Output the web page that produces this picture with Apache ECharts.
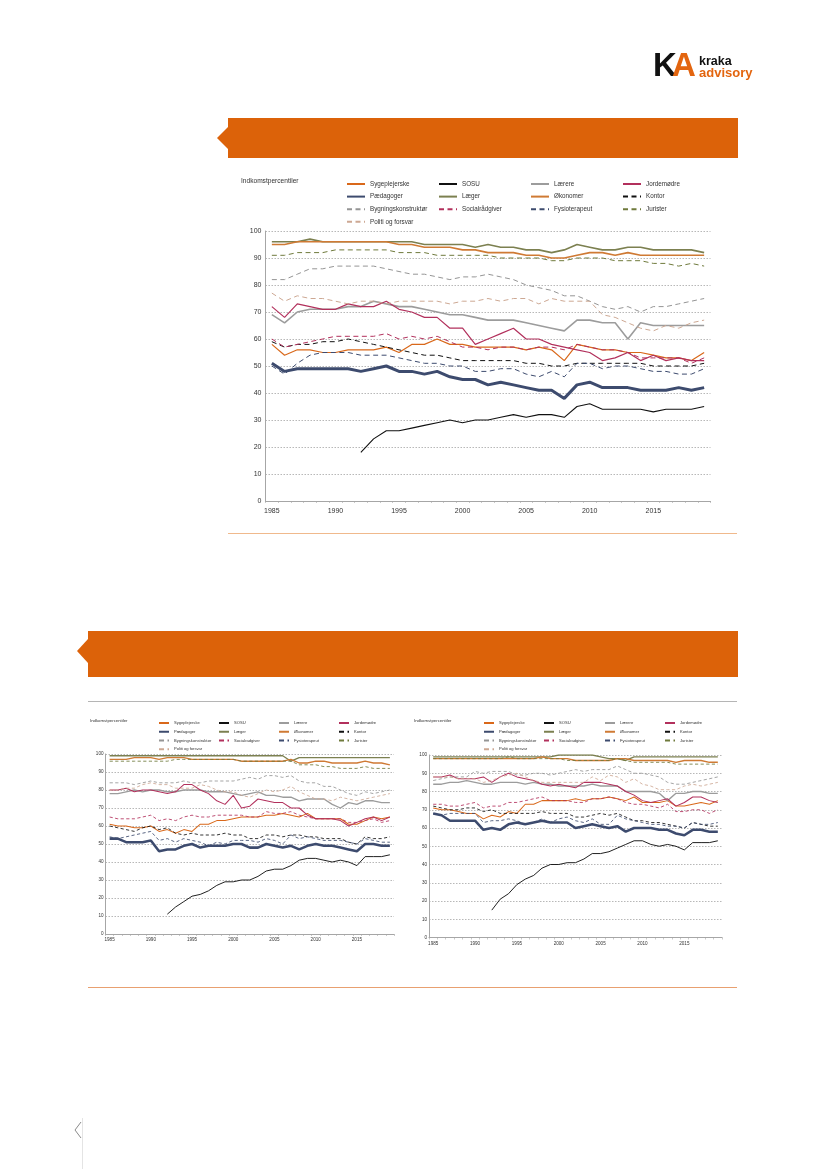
<!DOCTYPE html>
<html><head><meta charset="utf-8">
<style>html,body{margin:0;padding:0;background:#fff}#c{width:827px;height:1169px}</style>
<script src="https://cdn.jsdelivr.net/npm/echarts@6/dist/echarts.min.js"></script>
</head><body><div id="c"></div>
<script>
const years = ['1985','1986','1987','1988','1989','1990','1991','1992','1993','1994','1995','1996','1997','1998','1999','2000','2001','2002','2003','2004','2005','2006','2007','2008','2009','2010','2011','2012','2013','2014','2015','2016','2017','2018','2019'];
const yTitle = 'Indkomstpercentiler';
const names = ['Sygeplejerske','SOSU','Lærere','Jordemødre','Pædagoger','Læger','Økonomer','Kontor','Bygningskonstruktør','Socialrådgiver','Fysioterapeut','Jurister','Politi og forsvar'];
const n7 = [null,null,null,null,null,null,null];

// Hovedfigur
const mainSyg = [58,54,56,56,55,55,56,56,56,57,55,58,58,60,58,58,57,57,57,57,56,57,56,52,58,57,56,56,55,55,54,53,53,52,55];
const mainSosu = [...n7,18,23,26,26,27,28,29,30,29,30,30,31,32,31,32,32,31,35,36,34,34,34,34,33,34,34,34,35];
const mainLaer = [69,66,70,71,71,71,72,72,74,73,72,72,71,70,69,69,68,67,67,67,66,65,64,63,67,67,66,66,60,66,65,65,65,65,65];
const mainJord = [72,68,73,72,71,71,73,72,72,74,71,70,68,68,64,64,58,60,62,64,60,60,58,57,56,55,52,53,55,52,54,52,53,52,52];
const mainPaed = [51,48,49,49,49,49,49,48,49,50,48,48,47,48,46,45,45,43,44,43,42,41,41,38,43,44,42,42,42,41,41,41,42,41,42];
const mainLaeg = [96,96,96,97,96,96,96,96,96,96,96,96,95,95,95,95,94,95,94,94,93,93,92,93,95,94,93,93,94,94,93,93,93,93,92];
const mainOkon = [95,95,96,96,96,96,96,96,96,96,95,95,94,94,94,93,93,92,92,92,91,91,90,90,91,92,92,91,92,91,91,91,91,91,91];
const mainKont = [59,57,58,58,59,59,60,59,58,57,56,55,54,54,53,52,52,52,52,52,51,51,50,50,51,51,51,51,51,51,50,50,50,50,51];
const mainBygn = [82,82,84,86,86,87,87,87,87,86,85,84,84,83,82,83,83,84,83,82,80,79,78,76,76,74,72,71,72,70,72,72,73,74,75];
const mainSoci = [60,57,58,59,60,61,61,61,61,62,60,61,60,61,59,57,57,56,57,57,56,57,57,56,58,57,56,56,55,53,53,53,53,51,53];
const mainFysi = [50,47,51,54,55,55,55,54,54,54,53,52,51,51,50,50,48,48,49,49,47,46,48,46,51,51,49,50,50,49,48,48,47,47,49];
const mainJuri = [91,91,92,92,92,93,93,93,93,93,92,92,92,91,91,91,91,91,90,90,90,90,89,89,90,90,90,89,89,89,88,88,87,88,87];
const mainPoli = [77,74,76,75,75,74,73,74,74,73,74,74,74,74,73,74,74,75,74,75,75,73,75,74,74,74,69,68,66,64,63,65,64,66,67];

// Venstre figur
const leftSyg = [61,60,60,59,59,60,57,58,56,58,57,61,61,63,63,64,65,65,65,66,66,67,66,65,67,64,64,64,64,61,61,63,65,64,65];
const leftSosu = [...n7,11,15,18,21,22,24,27,29,29,30,30,32,35,36,36,38,41,42,42,41,40,41,40,38,43,43,43,44];
const leftLaer = [78,78,79,80,79,80,80,79,79,80,80,80,79,79,79,78,77,78,79,77,77,76,76,74,75,75,75,72,70,73,72,74,74,73,73];
const leftJord = [80,80,81,79,80,80,79,78,79,83,83,80,78,74,72,77,70,71,75,74,73,73,70,70,66,64,64,64,63,60,62,64,65,63,65];
const leftPaed = [53,53,51,51,51,52,46,47,47,49,50,48,49,49,49,50,50,48,48,50,49,48,49,47,49,50,49,49,48,47,46,50,50,49,49];
const leftLaeg = [99,99,99,99,99,99,99,99,99,99,99,99,99,99,99,99,99,99,99,99,99,99,96,98,98,98,98,98,98,98,98,98,98,98,98];
const leftOkon = [97,97,97,98,98,98,97,98,98,98,97,97,97,97,97,97,96,96,96,96,96,96,97,95,95,96,96,95,95,95,95,96,95,95,94];
const leftKont = [60,59,58,57,59,60,58,59,56,55,56,55,55,55,56,55,55,53,53,55,55,54,55,55,54,54,53,53,53,51,50,54,53,53,54];
const leftBygn = [84,84,84,83,84,85,84,84,84,85,84,84,85,85,85,85,86,87,86,88,88,87,88,85,84,84,82,82,80,78,77,79,78,79,80];
const leftSoci = [65,64,64,64,65,66,63,64,63,65,66,65,65,66,66,66,66,65,65,68,67,67,68,66,65,64,64,64,64,62,62,63,64,62,63];
const leftFysi = [54,53,54,55,56,57,52,53,51,53,52,51,49,51,50,52,52,52,51,53,52,50,55,53,54,53,52,52,52,51,50,53,52,51,51];
const leftJuri = [96,96,96,96,96,96,96,96,97,97,97,97,97,97,97,97,96,96,96,96,96,96,96,94,94,94,93,93,92,92,92,93,92,92,92];
const leftPoli = [80,80,81,81,83,84,83,83,81,81,81,83,82,80,79,79,77,76,78,80,79,80,82,79,77,75,75,74,76,75,74,75,76,77,78];

// Højre figur
const rightSyg = [71,70,70,69,68,68,65,67,66,69,68,73,73,75,75,75,75,76,75,76,76,77,76,75,77,74,74,74,75,72,72,73,74,73,75];
const rightSosu = [...n7,15,21,24,29,32,34,38,40,40,41,41,43,46,46,47,49,51,53,53,51,50,51,50,48,52,52,52,53];
const rightLaer = [84,84,85,85,86,85,84,84,85,85,85,84,85,84,84,83,83,83,83,84,83,83,83,80,80,80,80,79,75,79,79,80,80,79,79];
const rightJord = [88,88,89,87,87,87,88,85,88,90,88,87,86,84,83,84,83,82,85,85,85,84,83,80,78,75,74,75,76,72,74,77,77,75,74];
const rightPaed = [68,67,64,64,64,64,59,60,59,62,63,62,63,64,63,63,63,60,61,62,61,60,61,58,60,60,60,59,59,57,56,59,59,58,58];
const rightLaeg = [99,99,99,99,99,99,99,99,99,99,99,99,99,99,99,100,100,100,100,100,99,98,98,97,99,99,99,99,99,99,99,99,99,99,99];
const rightOkon = [98,98,98,98,98,98,98,98,98,98,98,98,98,99,98,98,98,97,97,97,97,97,98,98,97,97,97,97,97,96,97,97,97,96,96];
const rightKont = [72,71,70,70,71,71,69,70,68,68,68,68,68,69,68,68,68,66,66,67,68,67,68,66,64,64,63,63,62,61,60,63,62,61,61];
const rightBygn = [86,87,88,88,88,91,90,91,91,91,89,89,90,90,89,90,91,92,91,92,92,92,94,92,90,90,89,88,85,84,84,85,86,87,88];
const rightSoci = [73,73,72,72,73,74,71,72,72,74,74,75,76,77,75,75,75,74,74,76,76,77,76,74,73,73,72,71,73,69,69,70,70,68,70];
const rightFysi = [68,67,68,68,68,68,63,64,64,65,64,62,63,65,63,65,66,64,63,65,62,62,67,65,64,63,62,62,61,61,60,63,62,62,63];
const rightJuri = [98,98,98,98,98,98,98,98,98,99,98,98,98,98,98,98,97,97,97,97,97,97,98,97,96,96,96,96,96,95,95,95,95,95,95];
const rightPoli = [88,88,88,87,87,87,85,86,88,89,90,88,86,85,85,85,85,85,85,88,86,89,88,85,87,84,83,81,81,81,83,84,83,84,85];

const styles = {
  'Sygeplejerske':       {color:'#d9681a', width:1.2},
  'SOSU':                {color:'#111111', width:1.1},
  'Lærere':              {color:'#9c9c9c', width:1.6},
  'Jordemødre':          {color:'#b2305c', width:1.2},
  'Pædagoger':           {color:'#3d4b6e', width:3},
  'Læger':               {color:'#7c8050', width:1.6},
  'Økonomer':            {color:'#cf7a34', width:1.6},
  'Kontor':              {color:'#111111', width:1, dash:true},
  'Bygningskonstruktør': {color:'#959595', width:1, dash:true},
  'Socialrådgiver':      {color:'#b2305c', width:1, dash:true},
  'Fysioterapeut':       {color:'#3d4b6e', width:1, dash:true},
  'Jurister':            {color:'#6f7a3c', width:1, dash:true},
  'Politi og forsvar':   {color:'#cda893', width:1, dash:true}
};
const mainData  = [mainSyg,mainSosu,mainLaer,mainJord,mainPaed,mainLaeg,mainOkon,mainKont,mainBygn,mainSoci,mainFysi,mainJuri,mainPoli];
const leftData  = [leftSyg,leftSosu,leftLaer,leftJord,leftPaed,leftLaeg,leftOkon,leftKont,leftBygn,leftSoci,leftFysi,leftJuri,leftPoli];
const rightData = [rightSyg,rightSosu,rightLaer,rightJord,rightPaed,rightLaeg,rightOkon,rightKont,rightBygn,rightSoci,rightFysi,rightJuri,rightPoli];

const font = 'Liberation Sans';
const panels = [
  {data:mainData,  grid:{left:265.5,top:231,width:445,height:270}, fs:7,  scale:1, xm:7, ym:4, dash:[5,3.5]},
  {data:leftData,  grid:{left:105.5,top:754,width:288.5,height:180}, fs:4.6, scale:.85, xm:3, ym:2, dash:[3.2,2.4]},
  {data:rightData, grid:{left:429,top:755,width:293,height:182.5}, fs:4.6, scale:.85, xm:4, ym:2, dash:[3.2,2.4]}
];
const series = [], xAxis = [], yAxis = [], grid = [];
panels.forEach((p,i)=>{
  grid.push(Object.assign({containLabel:false},p.grid));
  xAxis.push({type:'category',gridIndex:i,data:years,boundaryGap:true,
    axisLine:{lineStyle:{color:'#a6a6a6',width:1}},
    axisTick:{show:true,interval:0,length:2,lineStyle:{color:'#a6a6a6',width:.6}},
    axisLabel:{interval:4,fontSize:p.fs,color:'#333',fontFamily:font,margin:p.xm,hideOverlap:false},
    splitLine:{show:false}});
  yAxis.push({type:'value',gridIndex:i,min:0,max:100,interval:10,
    axisLine:{show:true,lineStyle:{color:'#a6a6a6',width:1}},
    axisTick:{show:false},
    axisLabel:{fontSize:p.fs,color:'#333',fontFamily:font,margin:p.ym},
    splitLine:{show:true,lineStyle:{color:'#9a9a9a',width:.7,type:[1.5,1.5]}}});
  names.forEach((name,k)=>{
    const s = styles[name];
    series.push({type:'line',name,xAxisIndex:i,yAxisIndex:i,data:p.data[k],symbol:'none',
      silent:true,connectNulls:false,z:name==='Pædagoger'?4:3,
      lineStyle:{color:s.color,width:s.width*p.scale,type:s.dash?p.dash:'solid'},
      itemStyle:{color:s.color}});
  });
});
const cols = [
  ['Sygeplejerske','Pædagoger','Bygningskonstruktør','Politi og forsvar'],
  ['SOSU','Læger','Socialrådgiver'],
  ['Lærere','Økonomer','Fysioterapeut'],
  ['Jordemødre','Kontor','Jurister']
];
const legendDefs = [
  {xs:[346,438,530,622], top:180, w:18, h:8, gap:4.6, fs:6.3},
  {xs:[158,218,278,338], top:720, w:10, h:6, gap:2.75, fs:4.1},
  {xs:[483,543,604,664], top:720, w:10, h:6, gap:2.75, fs:4.1}
];
const legend = [];
legendDefs.forEach(d=>{
  cols.forEach((c,j)=>{
    legend.push({orient:'vertical',left:d.xs[j],top:d.top,data:c,padding:0,selectedMode:false,
      itemWidth:d.w,itemHeight:d.h,itemGap:d.gap,
      itemStyle:{opacity:0,color:'transparent',borderColor:'transparent',borderWidth:0},
      textStyle:{fontSize:d.fs,color:'#333',fontFamily:font,lineHeight:d.h}});
  });
});
const orange = '#dc6209';
const graphic = [
  {type:'polygon',silent:true,shape:{points:[[228,127],[217,138],[228,149]]},style:{fill:orange}},
  {type:'rect',silent:true,shape:{x:228,y:118,width:510,height:40},style:{fill:orange}},
  {type:'polygon',silent:true,shape:{points:[[88,639],[77,651],[88,663]]},style:{fill:orange}},
  {type:'rect',silent:true,shape:{x:88,y:631,width:650,height:46},style:{fill:orange}},
  {type:'rect',silent:true,shape:{x:228,y:533,width:509,height:1},style:{fill:'#f0b98c'}},
  {type:'rect',silent:true,shape:{x:88,y:701,width:649,height:1},style:{fill:'#b5b5b5'}},
  {type:'rect',silent:true,shape:{x:88,y:987,width:649,height:1},style:{fill:'#e8a070'}},
  {type:'rect',silent:true,shape:{x:82,y:1118,width:1,height:51},style:{fill:'#e4e4e4'}},
  {type:'polyline',silent:true,shape:{points:[[81,1122],[75,1130],[81,1138]]},style:{stroke:'#8a8a8a',fill:'none',lineWidth:1}},
  {type:'text',silent:true,left:241,top:178,style:{text:yTitle,font:'6.6px "Liberation Sans"',fill:'#333'}},
  {type:'text',silent:true,left:90,top:719,style:{text:yTitle,font:'4.3px "Liberation Sans"',fill:'#333'}},
  {type:'text',silent:true,left:414,top:719,style:{text:yTitle,font:'4.3px "Liberation Sans"',fill:'#333'}},
  {type:'text',silent:true,left:653,top:50,style:{text:'K',font:'bold 33px "Liberation Sans"',fill:'#111'}},
  {type:'text',silent:true,left:672,top:50,style:{text:'A',font:'bold 33px "Liberation Sans"',fill:'#e3650f'}},
  {type:'text',silent:true,left:699,top:55,style:{text:'kraka',font:'bold 12.5px "Liberation Sans"',fill:'#111'}},
  {type:'text',silent:true,left:699,top:67,style:{text:'advisory',font:'bold 13px "Liberation Sans"',fill:'#e3650f'}}
];
const chart = echarts.init(document.getElementById('c'),null,{renderer:'canvas'});
chart.setOption({animation:false,backgroundColor:'#fff',grid,xAxis,yAxis,series,legend,graphic,tooltip:{show:false}});
</script></body></html>
